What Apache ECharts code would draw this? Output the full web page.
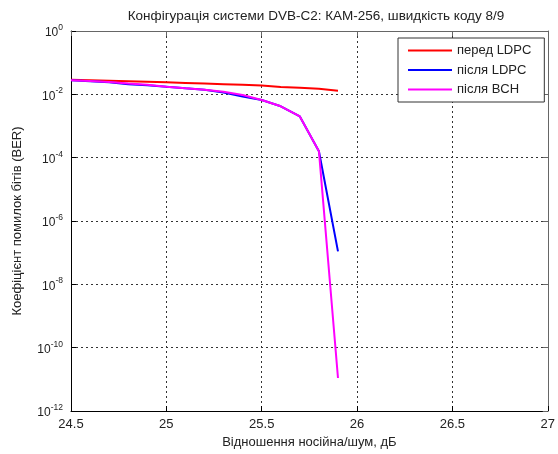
<!DOCTYPE html>
<html>
<head>
<meta charset="utf-8">
<script src="https://cdn.jsdelivr.net/npm/echarts@6/dist/echarts.min.js"></script>
<style>
  html, body { margin: 0; padding: 0; background: #fff; }
  #chart { width: 558px; height: 454px; }
</style>
</head>
<body>
<div id="chart"></div>
<script>
// SNR, dB
const snr = [24.5, 24.6, 24.7, 24.8, 24.9, 25.0, 25.1, 25.2, 25.3, 25.4, 25.5, 25.6, 25.7, 25.8, 25.9];
// BER before LDPC decoding
const berBefore = [2.9e-2, 2.8e-2, 2.7e-2, 2.6e-2, 2.5e-2, 2.4e-2, 2.3e-2, 2.2e-2, 2.1e-2, 2.0e-2, 1.9e-2, 1.7e-2, 1.6e-2, 1.5e-2, 1.3e-2];
// BER after LDPC
const berLdpc = [2.8e-2, 2.6e-2, 2.4e-2, 2.1e-2, 1.95e-2, 1.75e-2, 1.55e-2, 1.4e-2, 1.15e-2, 8.5e-3, 6.6e-3, 4.2e-3, 2.0e-3, 1.6e-4, 1.1e-7];
// BER after BCH
const berBch = [2.8e-2, 2.65e-2, 2.45e-2, 2.2e-2, 2.0e-2, 1.75e-2, 1.55e-2, 1.4e-2, 1.2e-2, 9.5e-3, 6.6e-3, 4.2e-3, 2.0e-3, 1.6e-4, 1.1e-11];

const names = ['перед LDPC', 'після LDPC', 'після BCH'];
const colors = ['#ff0000', '#0000ff', '#ff00ff'];

const font = 'Liberation Sans, Arial, sans-serif';
const pair = (ys) => snr.map((x, i) => [x, ys[i]]);

const chart = echarts.init(document.getElementById('chart'));

const gridLine = { show: true, lineStyle: { color: '#333', type: [2, 3], width: 1 } };

const option = {
  animation: false,
  title: {
    text: 'Конфігурація системи DVB-C2: КАМ-256, швидкість коду 8/9',
    left: 311, top: 4, textAlign: 'center',
    textStyle: { fontFamily: font, fontSize: 13.5, fontWeight: 'normal', color: '#222' }
  },
  legend: {
    left: 398, top: 38,
    orient: 'vertical',
    itemWidth: 44, itemHeight: 14, itemGap: 6.5,
    padding: [6, 13, 6, 9],
    backgroundColor: '#fff',
    borderColor: '#333', borderWidth: 1,
    itemStyle: { opacity: 0 },
    textStyle: { fontFamily: font, fontSize: 13, color: '#222' },
    data: names
  },
  grid: { left: 71, right: 7, top: 31, bottom: 43, containLabel: false },
  xAxis: [{
    type: 'value', min: 24.5, max: 27, interval: 0.5,
    name: 'Відношення носійна/шум, дБ',
    nameLocation: 'middle', nameGap: 25,
    nameTextStyle: { fontFamily: font, fontSize: 13, color: '#222' },
    axisLine: { lineStyle: { color: '#000', width: 1 } },
    axisTick: { inside: true, length: 5, lineStyle: { color: '#000' } },
    axisLabel: { fontFamily: font, fontSize: 13, color: '#222', margin: 7,
      formatter: (v) => String(v) },
    splitLine: gridLine
  }, {
    type: 'value', min: 24.5, max: 27, interval: 0.5, position: 'top',
    axisLine: { lineStyle: { color: '#666', width: 1 } },
    axisTick: { inside: true, length: 5, lineStyle: { color: '#666' } },
    axisLabel: { show: false }, splitLine: { show: false }
  }],
  yAxis: [{
    type: 'log', logBase: 10, min: 1e-12, max: 1, interval: 2,
    name: 'Коефіцієнт помилок бітів (BER)',
    nameLocation: 'middle', nameGap: 47,
    nameTextStyle: { fontFamily: font, fontSize: 13, color: '#222' },
    axisLine: { show: true, lineStyle: { color: '#000', width: 1 } },
    axisTick: { show: true, inside: true, length: 5, lineStyle: { color: '#000' } },
    axisLabel: {
      margin: 8,
      formatter: (v) => '{b|10}{s|' + Math.round(Math.log10(v)) + '}',
      rich: {
        b: { fontFamily: font, fontSize: 12, color: '#222', lineHeight: 16, verticalAlign: 'bottom' },
        s: { fontFamily: font, fontSize: 8.5, color: '#222', lineHeight: 16, verticalAlign: 'top' }
      }
    },
    splitLine: gridLine
  }, {
    type: 'log', logBase: 10, min: 1e-12, max: 1, interval: 2, position: 'right',
    axisLine: { show: true, lineStyle: { color: '#666', width: 1 } },
    axisTick: { show: true, inside: true, length: 5, lineStyle: { color: '#666' } },
    axisLabel: { show: false }, splitLine: { show: false }
  }],
  series: [
    { name: names[0], type: 'line', data: pair(berBefore), symbol: 'none', color: colors[0], lineStyle: { width: 2 } },
    { name: names[1], type: 'line', data: pair(berLdpc), symbol: 'none', color: colors[1], lineStyle: { width: 2 } },
    { name: names[2], type: 'line', data: pair(berBch), symbol: 'none', color: colors[2], lineStyle: { width: 2 } }
  ]
};

chart.setOption(option);
</script>
</body>
</html>
